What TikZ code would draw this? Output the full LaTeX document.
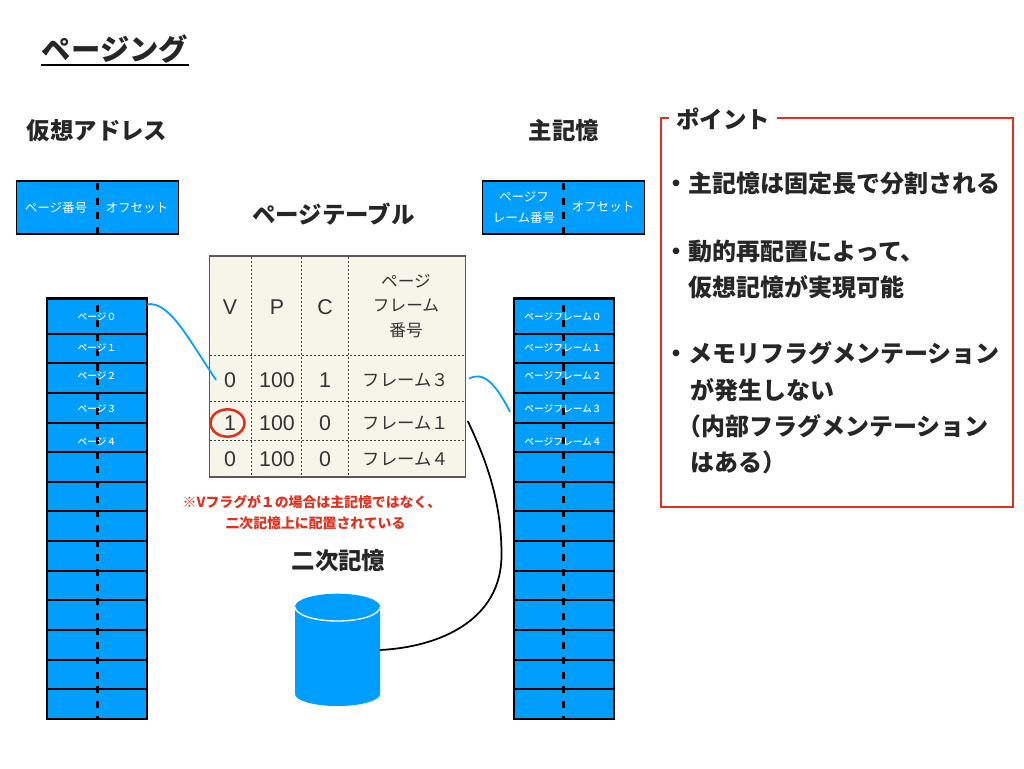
\documentclass[tikz,border=0pt]{standalone}
\usepackage{fontspec}
\usetikzlibrary{shapes.geometric}
\setmainfont{Noto Sans CJK JP}
\newfontfamily\medf{Noto Sans CJK JP Medium}
\newfontfamily\latinf{Liberation Sans}
\definecolor{memblue}{HTML}{009EFF}
\definecolor{alertred}{HTML}{E0301E}
\definecolor{tablebg}{HTML}{F6F5EA}
\definecolor{ink}{HTML}{333333}
\tikzset{
  x=0.75pt,y=-0.75pt,
  every node/.style={inner sep=0pt,outer sep=0pt},
  bighead/.style={font=\fontsize{17.6pt}{21pt}\selectfont\bfseries,text=black!85},
  headbox/.style={draw=black,line width=0.9pt,fill=memblue,minimum width=121.5pt,minimum height=39.75pt},
  rowbox/.style={draw=black,line width=1.4pt,fill=memblue,minimum width=75pt},
  stackframe/.style={draw=black,line width=1.9pt},
  whitesmall/.style={text=white,font=\fontsize{9.4pt}{13pt}\selectfont,align=center},
  whitetiny/.style={text=white,font=\fontsize{7.3pt}{9pt}\selectfont\medf},
  middash/.style={draw=black,line width=2.2pt,dash pattern=on 5.2pt off 5.8pt},
  celltext/.style={text=ink,font=\fontsize{12.5pt}{15pt}\selectfont},
  cellnum/.style={text=ink,font=\fontsize{16pt}{18pt}\selectfont\latinf},
  tableline/.style={draw=black!75,line width=0.6pt,dash pattern=on 1.5pt off 1.5pt},
  pointtext/.style={anchor=west,font=\fontsize{18pt}{22pt}\selectfont\bfseries,text=black!85},
  rednote/.style={text=alertred,font=\fontsize{10.4pt}{13pt}\selectfont\bfseries},
  bluewire/.style={draw=memblue,line width=1.3pt},
  blackwire/.style={draw=black,line width=1.3pt},
}
\begin{document}
\begin{tikzpicture}
\useasboundingbox (0,0) rectangle (1024,768);
% title
\node[font=\fontsize{22pt}{26pt}\selectfont\bfseries,text=black!85] (title) at (115,49) {ページング};
\draw[black,line width=1.5pt] (41,65) -- (189,65);
% headings
\node[bighead] (hvirt) at (97,131) {仮想アドレス};
\node[bighead] (hmain) at (564,131) {主記憶};
\node[bighead] (htable) at (333.5,214) {ページテーブル};
\node[bighead] (hsec) at (338.5,561) {二次記憶};
% header boxes
\node[headbox] (vaddr) at (97.25,207.5) {};
\draw[middash] (97.5,183) -- (97.5,233);
\node[whitesmall] (vpage) at (56,208) {ページ番号};
\node[whitesmall] (voff) at (137,208) {オフセット};
\node[headbox] (paddr) at (563.5,207.5) {};
\draw[middash] (563.5,183) -- (563.5,233);
\node[whitesmall] (ppage) at (524,207.5) {ページフ\\[3pt]レーム番号};
\node[whitesmall] (poff) at (603,207) {オフセット};
% left stack
\foreach \n/\t/\b in {0/298.7/333.7,1/333.7/362.7,2/362.7/392.7,3/392.7/423,4/423/452,5/452/482,6/482/511,7/511/541,8/541/570.7,9/570.7/600,10/600/630,11/630/660,12/660/689,13/689/719}{
  \node[rowbox,minimum height={0.75pt*(\b-\t)}] (p\n) at (97,{(\t+\b)/2}) {};
  \node[rowbox,minimum height={0.75pt*(\b-\t)}] (f\n) at (564,{(\t+\b)/2}) {};
}
\draw[stackframe] (p0.north west) rectangle (p13.south east);
\draw[stackframe] (f0.north west) rectangle (f13.south east);
\draw[middash] (97.5,305) -- (97.5,719);
\draw[middash] (563.5,305) -- (563.5,719);
\foreach \n/\y in {0/316.5,1/348,2/376,3/409,4/441.5}{
  \node[whitetiny] (pl\n) at (97,\y) {ページ\ifcase\n ０\or １\or ２\or ３\or ４\fi};
  \node[whitetiny] (fl\n) at (563,\y) {ページフレーム\ifcase\n ０\or １\or ２\or ３\or ４\fi};
}
% page table
\node[draw=black!65,line width=0.9pt,fill=tablebg,minimum width=192pt,minimum height=165.75pt] (ptable) at (337.5,366.5) {};
\foreach \x in {251.5,301.5,348.5}{\draw[tableline] (\x,256.5) -- (\x,476.5);}
\foreach \y in {355,401,440}{\draw[tableline] (210,\y) -- (465,\y);}
\node[cellnum] (cv) at (230,307) {V};
\node[cellnum] (cp) at (277,307) {P};
\node[cellnum] (cc) at (325,307) {C};
\node[celltext,align=center] (cf) at (406,306) {ページ\\[3.5pt]フレーム\\[3.5pt]番号};
\foreach \r/\y/\a/\c/\d in {1/380/0/1/３,2/423/1/0/１,3/459/0/0/４}{
  \node[cellnum] (v\r) at (230,\y) {\a};
  \node[cellnum] (n\r) at (277,\y) {100};
  \node[cellnum] (c\r) at (325,\y) {\c};
  \node[celltext,font=\fontsize{13pt}{15pt}\selectfont] (r\r) at (406,\y) {フレーム\d};
}
\node[draw=alertred,line width=1.9pt,ellipse,minimum width=25.5pt,minimum height=20.5pt] (flagring) at (227.5,423) {};
% red note
\node[rednote] (note1) at (312,502) {※Vフラグが１の場合は主記憶ではなく、};
\node[rednote] (note2) at (315.5,523) {二次記憶上に配置されている};
% disk
\fill[memblue] (295,606.7) -- (295,694) arc[start angle=180,end angle=0,x radius=42.5,y radius=12] -- (380,606.7) arc[start angle=0,end angle=-180,x radius=42.5,y radius=13] -- cycle;
\draw[white,line width=1pt] (295,607) arc[start angle=180,end angle=0,x radius=42.5,y radius=14];
\node[minimum width=63.75pt,minimum height=84.75pt] (disk) at (337.5,650) {};
% connectors
\draw[bluewire] ([yshift=9pt]p0.east) .. controls +(22,-3) and +(-30,-45) .. ([xshift=-6pt]v1.west);
\draw[bluewire] ([xshift=15pt,yshift=1pt]r1.east) .. controls +(14,-8) and +(-14,-28) .. ([xshift=-3pt,yshift=-3pt]f3.west);
\draw[blackwire] ([xshift=14pt,yshift=1.5pt]r2.east) .. controls +(18,38) and +(0,-55) .. (501.5,555) .. controls +(0,65) and +(60,-3) .. (disk.east);
% point box
\node[draw=alertred,line width=1.2pt,minimum width=264pt,minimum height=291.75pt] (pointbox) at (837,312.5) {};
\node[fill=white,inner xsep=5pt,font=\fontsize{17.6pt}{21pt}\selectfont\bfseries,text=black!85] (pointhead) at (723,119) {ポイント};
\node[pointtext] (t1) at (664,183) {・主記憶は固定長で分割される};
\node[pointtext] (t2) at (664,251) {・動的再配置によって、};
\node[pointtext] (t3) at (688,287) {仮想記憶が実現可能};
\node[pointtext] (t4) at (664,353) {・メモリフラグメンテーション};
\node[pointtext] (t5) at (690,390) {が発生しない};
\node[pointtext] (t6) at (677,426) {（内部フラグメンテーション};
\node[pointtext] (t7) at (690,462) {はある）};
\end{tikzpicture}
\end{document}
